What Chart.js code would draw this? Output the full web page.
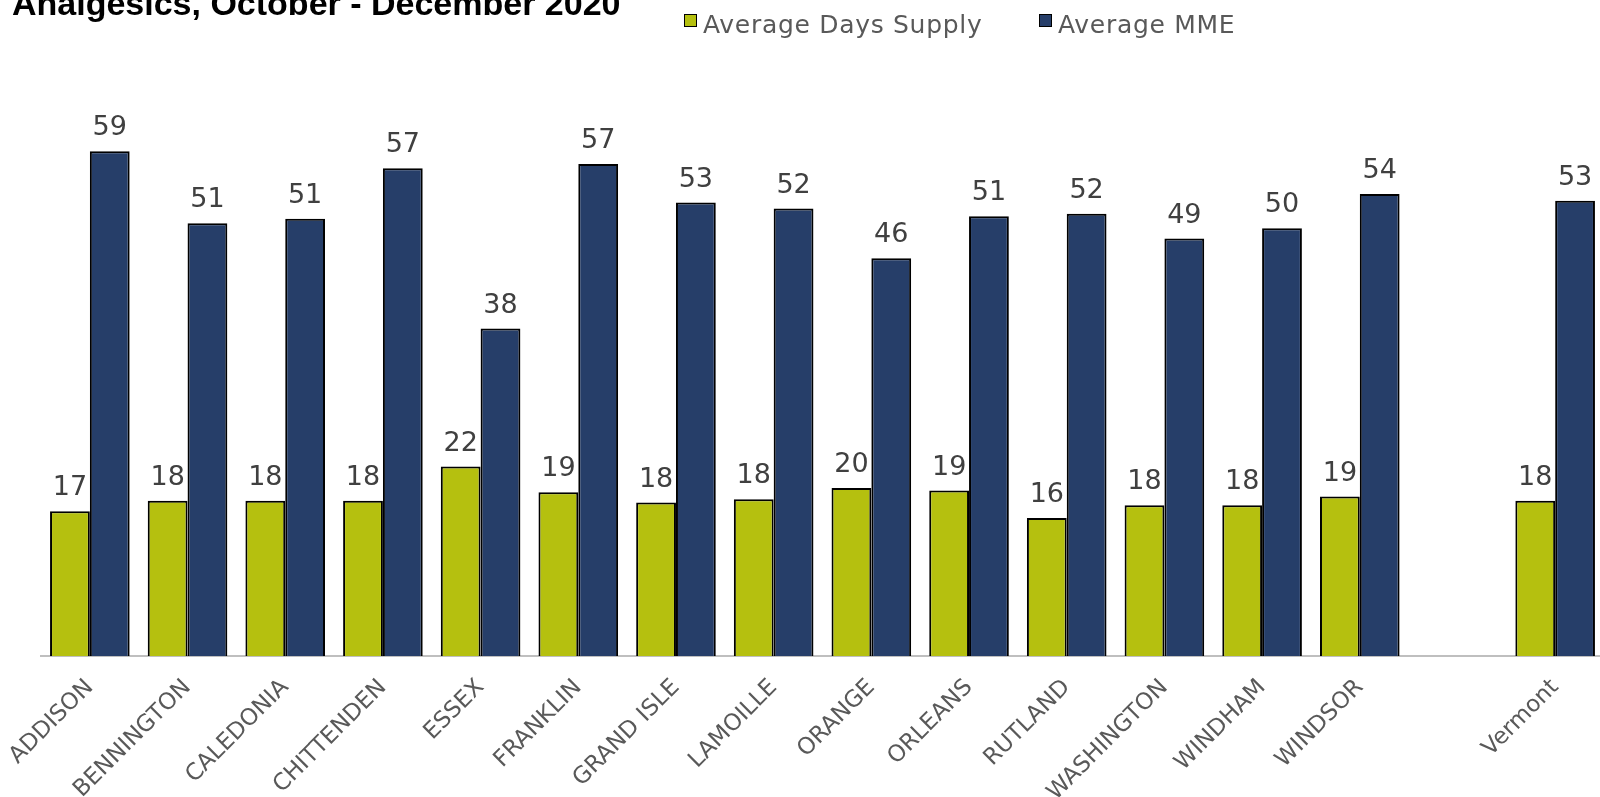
<!DOCTYPE html>
<html>
<head>
<meta charset="utf-8">
<script src="https://cdn.jsdelivr.net/npm/chart.js@4/dist/chart.umd.min.js"></script>
<style>
  html, body { margin: 0; padding: 0; background: #fff; overflow: hidden; }
  #wrap { position: relative; width: 1600px; height: 797px; overflow: hidden; }
  #title { position: absolute; left: 12px; top: -14px; font: bold 34px "Liberation Sans", Arial, sans-serif; line-height: 34px; color: #000; white-space: nowrap; }
  #legend { position: absolute; left: 684px; top: 0; height: 40px; font: 25px "DejaVu Sans", sans-serif; letter-spacing: 0.7px; line-height: 25px; color: #595959; white-space: nowrap; }
  .item { position: relative; display: inline-block; height: 40px; vertical-align: top; }
  .box { position: absolute; left: 0; top: 14px; width: 11px; height: 11px; border: 1px solid #000; }
  .txt { position: absolute; left: 19px; top: 12px; }
</style>
</head>
<body>
<div id="wrap">
  <canvas id="c" width="1604" height="797"></canvas>
  <div id="title">Analgesics, October - December 2020</div>
  <div id="legend"></div>
</div>
<script>
const categories = ["ADDISON","BENNINGTON","CALEDONIA","CHITTENDEN","ESSEX","FRANKLIN","GRAND ISLE","LAMOILLE","ORANGE","ORLEANS","RUTLAND","WASHINGTON","WINDHAM","WINDSOR","","Vermont"];
const avgDaysSupply = [16.9, 18.1, 18.1, 18.1, 22.1, 19.1, 17.9, 18.3, 19.6, 19.3, 16.1, 17.6, 17.6, 18.6, null, 18.1];
const avgMME = [58.9, 50.5, 51.0, 56.9, 38.2, 57.4, 52.9, 52.2, 46.4, 51.3, 51.6, 48.7, 49.9, 53.9, null, 53.1];
const seriesNames = ["Average Days Supply", "Average MME"];
const seriesColors = ["#B5C00F", "#263E69"];

const barLabels = {
  id: 'barLabels',
  afterDatasetsDraw(chart) {
    const ctx = chart.ctx;
    ctx.save();
    ctx.font = '27px "DejaVu Sans", sans-serif';
    ctx.fillStyle = '#404040';
    ctx.textAlign = 'center';
    ctx.textBaseline = 'alphabetic';
    chart.data.datasets.forEach((ds, di) => {
      const meta = chart.getDatasetMeta(di);
      meta.data.forEach((el, i) => {
        const v = ds.data[i];
        if (v === null || v === undefined) return;
        ctx.fillText(String(Math.round(v)), el.x, el.y - 16);
      });
    });
    ctx.restore();
  }
};

const chart = new Chart(document.getElementById('c'), {
  type: 'bar',
  data: {
    labels: categories,
    datasets: [
      { label: seriesNames[0], data: avgDaysSupply, backgroundColor: seriesColors[0], borderColor: '#000', borderWidth: 2 },
      { label: seriesNames[1], data: avgMME, backgroundColor: seriesColors[1], borderColor: '#000', borderWidth: 2 }
    ]
  },
  options: {
    responsive: false,
    animation: false,
    layout: { padding: { left: 41, right: 0, top: 56, bottom: 0 } },
    datasets: { bar: { barPercentage: 1.0, categoryPercentage: 0.815 } },
    plugins: { legend: { display: false }, title: { display: false }, tooltip: { enabled: false } },
    scales: {
      x: {
        grid: { display: false, drawTicks: false },
        border: { display: true, color: '#BFBFBF', width: 2 },
        ticks: {
          autoSkip: false, minRotation: 45, maxRotation: 45, padding: 18,
          color: '#595959', font: { family: '"DejaVu Sans", sans-serif', size: 23 }
        },
        afterFit(scale) { scale.height = 141; scale.paddingLeft = 0; scale.paddingRight = 0; }
      },
      y: { display: false, min: 0, max: 70 }
    }
  },
  plugins: [barLabels]
});

const legend = document.getElementById('legend');
const itemWidths = [355, 220];
chart.data.datasets.forEach((ds, i) => {
  const item = document.createElement('div');
  item.className = 'item';
  item.style.width = itemWidths[i] + 'px';
  const box = document.createElement('span');
  box.className = 'box';
  box.style.background = ds.backgroundColor;
  const txt = document.createElement('span');
  txt.className = 'txt';
  txt.textContent = ds.label;
  item.appendChild(box); item.appendChild(txt);
  legend.appendChild(item);
});
</script>
</body>
</html>
